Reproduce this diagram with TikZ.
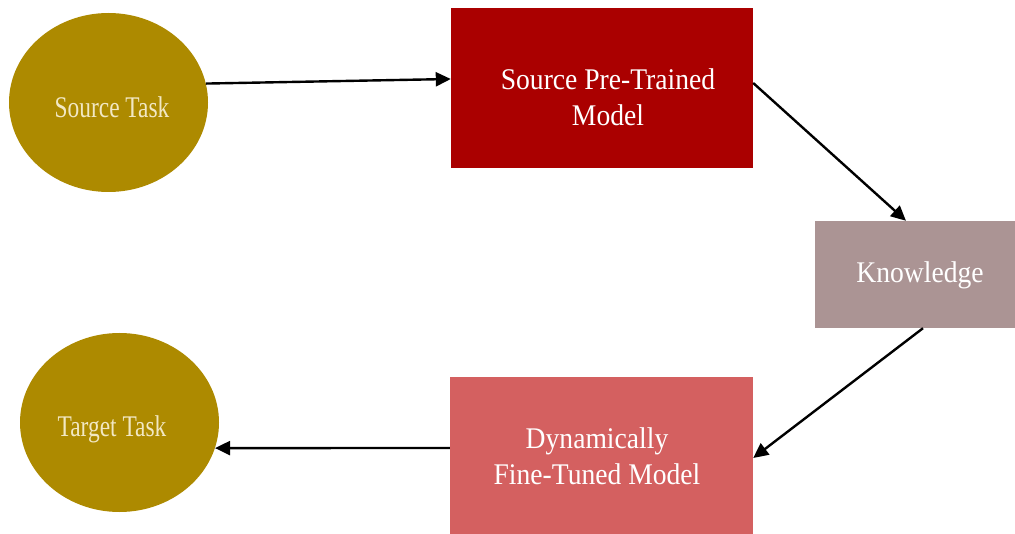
\documentclass[tikz,border=0pt]{standalone}
\usepackage{fontspec}
\setmainfont{Liberation Serif}
\newfontfamily\narrowserif[FakeStretch=0.78]{Liberation Serif}
\newfontfamily\boxserif[FakeStretch=0.92]{Liberation Serif}
\usetikzlibrary{shapes.geometric,arrows.meta}
\definecolor{taskgold}{RGB}{173,138,0}
\definecolor{taskcream}{RGB}{242,232,196}
\definecolor{srcred}{RGB}{170,0,0}
\definecolor{knowgrey}{RGB}{171,148,148}
\definecolor{tunedred}{RGB}{212,96,96}
\tikzset{
  taskshape/.style={ellipse, fill=taskgold, draw=none,
    minimum width=199pt, minimum height=179pt, inner sep=0pt},
  boxshape/.style={rectangle, draw=none, inner sep=0pt},
  tasktext/.style={font=\narrowserif\fontsize{30}{36}\selectfont,
    text=taskcream, anchor=base, inner sep=0pt},
  boxtext/.style={font=\boxserif\fontsize{30}{36}\selectfont, text=white,
    align=center, anchor=base, inner sep=0pt},
  link/.style={draw=black, line width=2.4pt,
    -{Triangle[length=15pt,width=14pt]}},
}
\begin{document}
\begin{tikzpicture}[x=1pt,y=-1pt]
\useasboundingbox (0,0) rectangle (1015,534);
\clip (0,0) rectangle (1015,534);

% shapes
\node[taskshape] (srctask) at (108.5,102.5) {};
\node[taskshape] (tgttask) at (119.5,422.5) {};
\node[boxshape, fill=srcred, minimum width=302pt, minimum height=160pt]
  (srcmodel) at (602,88) {};
\node[boxshape, fill=knowgrey, minimum width=200pt, minimum height=107pt]
  (know) at (915,274.5) {};
\node[boxshape, fill=tunedred, minimum width=303pt, minimum height=170pt]
  (tuned) at (601.5,462) {};

% labels (base anchor = baseline of the last line)
\node[tasktext] (srctask-label) at (112,118) {Source Task};
\node[tasktext] (tgttask-label) at (112,437) {Target Task};
\node[boxtext] (srcmodel-label) at (608,126) {Source Pre-Trained\\Model};
\node[boxtext] (know-label) at (920,283) {Knowledge};
\node[boxtext] (tuned-label) at (597,485) {Dynamically\\Fine-Tuned Model};

% flow
\draw[link] (srctask.11.4) -- ([yshift=9pt]srcmodel.west);
\draw[link] ([yshift=5pt]srcmodel.east) -- ([xshift=-9pt]know.north);
\draw[link] ([xshift=8pt]know.south) -- ([yshift=4pt]tuned.east);
\draw[link] ([yshift=14pt]tuned.west) -- (tgttask.-15);
\end{tikzpicture}
\end{document}
